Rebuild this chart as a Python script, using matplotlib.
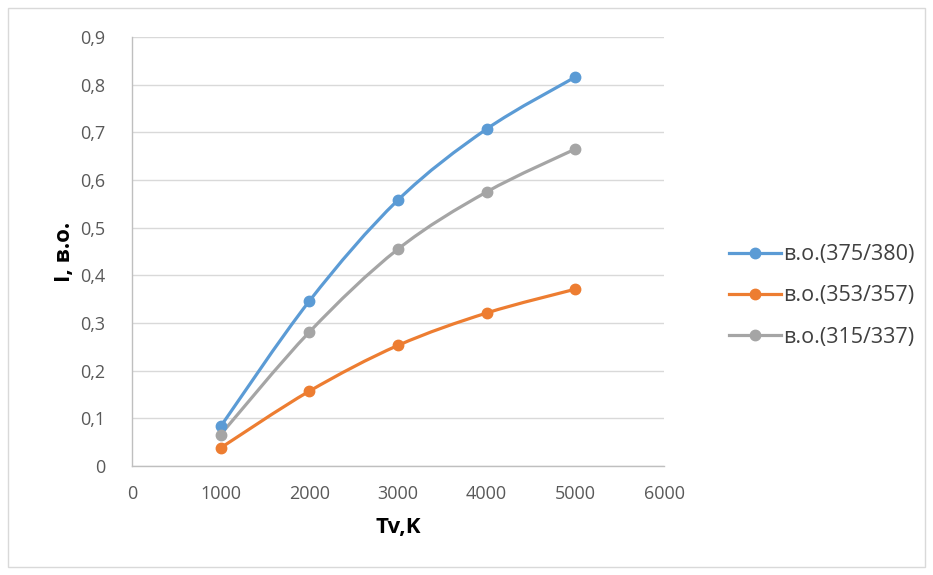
import numpy as np
import matplotlib.pyplot as plt
from matplotlib.path import Path
from matplotlib.patches import PathPatch, Rectangle
from matplotlib.lines import Line2D
from matplotlib.ticker import FuncFormatter

plt.rcParams['font.family'] = ['Open Sans', 'DejaVu Sans']

# data
tv = [1000, 2000, 3000, 4000, 5000]
series_labels = ['в.о.(375/380)', 'в.о.(353/357)', 'в.о.(315/337)']
i_375 = [0.083, 0.346, 0.558, 0.707, 0.816]
i_353 = [0.038, 0.157, 0.253, 0.321, 0.371]
i_315 = [0.066, 0.281, 0.455, 0.575, 0.665]
colors = ['#5B9BD5', '#ED7D31', '#A5A5A5']


def smooth_path(x, y, t=1/6):
    # cubic bezier through the points (Catmull-Rom style control points)
    x = np.asarray(x, float)
    y = np.asarray(y, float)
    n = len(x)
    verts = [(x[0], y[0])]
    codes = [Path.MOVETO]
    for i in range(n - 1):
        p0 = i - 1 if i > 0 else i
        p3 = i + 2 if i + 2 < n else i + 1
        c1 = (x[i] + (x[i + 1] - x[p0]) * t, y[i] + (y[i + 1] - y[p0]) * t)
        c2 = (x[i + 1] - (x[p3] - x[i]) * t, y[i + 1] - (y[p3] - y[i]) * t)
        verts += [c1, c2, (x[i + 1], y[i + 1])]
        codes += [Path.CURVE4] * 3
    return Path(verts, codes)


fig = plt.figure(figsize=(9.33, 5.75), dpi=100)
fig.patches.append(Rectangle((8 / 933, 8 / 575), 917 / 933, 559 / 575,
                             transform=fig.transFigure, fill=False,
                             edgecolor='#D9D9D9', linewidth=1.0))

ax = fig.add_axes([132 / 933, 1 - 466 / 575, 532 / 933, 429 / 575])

handles = []
for ys, c, lab in zip([i_375, i_353, i_315], colors, series_labels):
    ax.add_patch(PathPatch(smooth_path(tv, ys), facecolor='none',
                           edgecolor=c, linewidth=2.3, zorder=3))
    ax.plot(tv, ys, linestyle='none', marker='o', markersize=7.5,
            color=c, zorder=4)
    handles.append(Line2D([], [], color=c, linewidth=2.3, marker='o',
                          markersize=7.5, label=lab))

ax.set_xlim(0, 6000)
ax.set_ylim(0, 0.9)
ax.set_xticks(range(0, 6001, 1000))
ax.set_yticks(np.arange(0, 0.91, 0.1))
ax.yaxis.set_major_formatter(FuncFormatter(
    lambda v, p: '0' if abs(v) < 1e-9 else f'{v:.1f}'.replace('.', ',')))
ax.grid(axis='y', color='#D9D9D9', linewidth=1.0)
ax.set_axisbelow(True)
for s in ['top', 'right']:
    ax.spines[s].set_visible(False)
for s in ['left', 'bottom']:
    ax.spines[s].set_color('#BFBFBF')
    ax.spines[s].set_linewidth(1.0)
ax.tick_params(length=0, labelsize=13, colors='#595959')
ax.tick_params(axis='y', pad=19)
ax.tick_params(axis='x', pad=14)

ax.set_xlabel('Tv,K', fontsize=16, fontweight='bold', color='#000000', labelpad=10)
ax.set_ylabel('I, в.о.', fontsize=16, fontweight='bold', color='#000000', labelpad=4)

fig.legend(handles=handles, loc='center left',
           bbox_to_anchor=(710 / 933, 1 - 296 / 575), frameon=False,
           fontsize=15.5, handlelength=2.4, handletextpad=0.1,
           labelspacing=0.95, labelcolor='#404040')

fig.savefig('out.png', dpi=100)
